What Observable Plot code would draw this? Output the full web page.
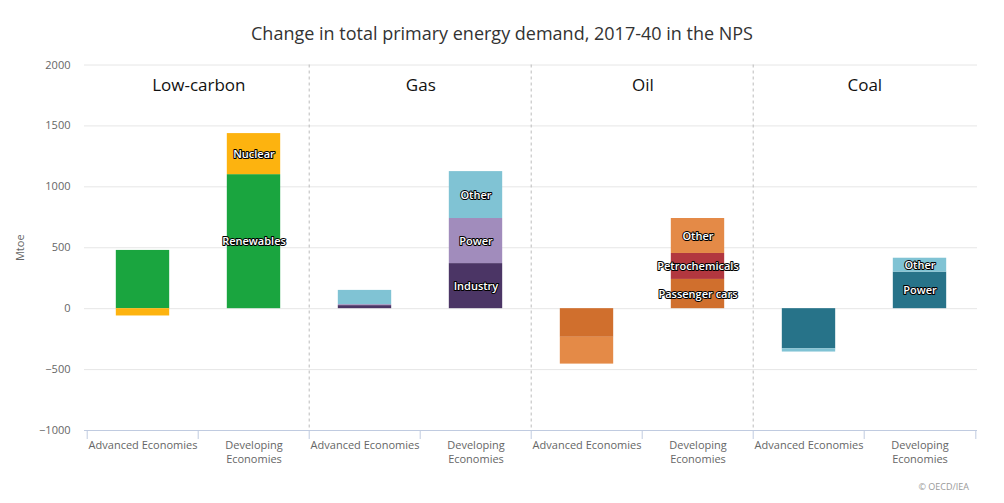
<!DOCTYPE html>
<html>
<head>
<meta charset="utf-8">
<script src="https://cdn.jsdelivr.net/npm/d3@7"></script>
<script src="https://cdn.jsdelivr.net/npm/@observablehq/plot@0.6"></script>
<style>
  html, body { margin: 0; padding: 0; background: #ffffff; }
  #wrap { position: relative; width: 1004px; height: 503px; font-family: "Open Sans", sans-serif; }
  #title { position: absolute; left: 0; top: 20px; width: 1004px; text-align: center; font-size: 18px; color: #333333; line-height: 26px; }
  #chart { position: absolute; left: 0; top: 50px; }
  #credit { position: absolute; right: 35px; top: 480px; font-size: 9px; color: #999999; }
</style>
</head>
<body>
<div id="wrap">
  <div id="title">Change in total primary energy demand, 2017-40 in the NPS</div>
  <div id="chart"></div>
  <div id="credit">© OECD/IEA</div>
</div>
<script>
// ---- data ----
const fuels = ["Low-carbon", "Gas", "Oil", "Coal"];
const economies = ["Advanced Economies", "Developing Economies"];
const yTicks = [-1000, -500, 0, 500, 1000, 1500, 2000];

// values: [Advanced Economies, Developing Economies] in Mtoe
const lowCarbonRenewables = [478, 1100];
const lowCarbonNuclear = [-60, 337];
const gasIndustry = [25, 370];
const gasPower = [8, 370];
const gasOther = [117, 385];
const oilPassengerCars = [-235, 240];
const oilPetrochemicals = [0, 213];
const oilOther = [-220, 287];
const coalPower = [-330, 300];
const coalOther = [-26, 114];

const seriesList = [
  {fuel: "Low-carbon", name: "Renewables", values: lowCarbonRenewables},
  {fuel: "Low-carbon", name: "Nuclear", values: lowCarbonNuclear},
  {fuel: "Gas", name: "Industry", values: gasIndustry},
  {fuel: "Gas", name: "Power", values: gasPower},
  {fuel: "Gas", name: "Other", values: gasOther},
  {fuel: "Oil", name: "Passenger cars", values: oilPassengerCars},
  {fuel: "Oil", name: "Petrochemicals", values: oilPetrochemicals},
  {fuel: "Oil", name: "Other", values: oilOther},
  {fuel: "Coal", name: "Power", values: coalPower},
  {fuel: "Coal", name: "Other", values: coalOther}
];

const colorKeys = ["Low-carbon|Renewables", "Low-carbon|Nuclear", "Gas|Industry", "Gas|Power", "Gas|Other",
  "Oil|Passenger cars", "Oil|Petrochemicals", "Oil|Other", "Coal|Power", "Coal|Other"];
const colorValues = ["#1aa53f", "#fdb30f", "#4b3565", "#a18cbc", "#80c3d4",
  "#d06f2d", "#b2373f", "#e48a47", "#277389", "#80c3d4"];

// ---- build table ----
const cats = fuels.flatMap(f => economies.map(e => f + "|" + e));
const rows = [];
for (const s of seriesList) {
  s.values.forEach((v, i) => {
    rows.push({cat: s.fuel + "|" + economies[i], fuel: s.fuel, econ: economies[i], series: s.name,
      key: s.fuel + "|" + s.name, value: v});
  });
}
const labelRows = rows.map(d => ({...d, label: d.econ === "Developing Economies" ? d.series : ""}));

// ---- layout ----
const W = 1004, H = 440, mL = 84, mR = 27, mT = 14.5, mB = 60;
const step = (W - mL - mR) / cats.length;
const barW = 54;
const inset = (step - barW) / 2;
const firstOfFuel = fuels.map(f => f + "|" + economies[0]);

const plot = Plot.plot({
  width: W, height: H,
  marginLeft: mL, marginRight: mR, marginTop: mT, marginBottom: mB,
  style: {fontFamily: "'Open Sans', sans-serif", background: "transparent"},
  x: {domain: cats, padding: 0, axis: null},
  y: {domain: [-1000, 2000], axis: null},
  color: {domain: colorKeys, range: colorValues},
  marks: [
    Plot.gridY(yTicks, {stroke: "#e6e6e6", strokeOpacity: 1}),
    Plot.axisY(yTicks, {tickSize: 0, tickPadding: 14, fontSize: 11, color: "#666666",
      label: "Mtoe", labelAnchor: "center", labelArrow: "none", labelOffset: 68,
      tickFormat: d => d.toString().replace("-", "−")}),
    Plot.ruleX(firstOfFuel.slice(1), {x: d => d, dx: -step / 2, stroke: "#bbbbbb", strokeDasharray: "3,3"}),
    Plot.barY(rows, Plot.stackY({x: "cat", y: "value", z: "series", fill: "key", insetLeft: inset, insetRight: inset})),
    Plot.text(labelRows, Plot.stackY({x: "cat", y: "value", z: "series", text: "label",
      fill: "white", stroke: "black", strokeWidth: 2, paintOrder: "stroke", fontSize: 11, fontWeight: 600})),
    Plot.text(firstOfFuel, {x: d => d, dx: step / 2, text: d => d.split("|")[0], frameAnchor: "top", dy: 14,
      fontSize: 17, fill: "#111111"}),
    Plot.ruleY([-1000], {stroke: "#c0cbe0"}),
    Plot.axisX(cats, {tickSize: 0, tickPadding: 8, fontSize: 11, color: "#666666", label: null,
      tickFormat: d => d.split("|")[1] === "Developing Economies" ? "Developing\nEconomies" : d.split("|")[1],
      lineHeight: 1.3}),
    Plot.axisX(cats, {tickSize: 9, dx: -step / 2, stroke: "#c0cbe0", tickFormat: () => "", label: null}),
    Plot.axisX([cats[cats.length - 1]], {tickSize: 9, dx: step / 2, stroke: "#c0cbe0", tickFormat: () => "", label: null})
  ]
});
document.getElementById("chart").appendChild(plot);
</script>
</body>
</html>
